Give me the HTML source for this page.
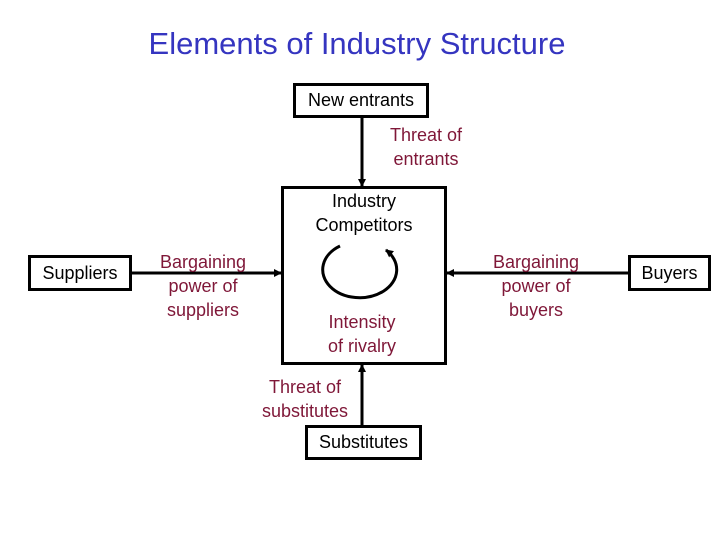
<!DOCTYPE html>
<html><head><style>
body{margin:0;width:720px;height:540px;background:#fff;position:relative;overflow:hidden;font-family:"Liberation Sans",sans-serif}
.t{position:absolute;white-space:nowrap;text-align:center;line-height:24px;font-size:18px}
.r{color:#7f1738}
.b{position:absolute;border:3px solid #000;box-sizing:border-box;display:flex;align-items:center;justify-content:center;font-size:18px}
</style></head><body>
<div class="t" style="left:0;width:714px;top:26px;font-size:31px;line-height:36px;color:#3535c0">Elements of Industry Structure</div>
<svg width="720" height="540" style="position:absolute;left:0;top:0">
<defs><marker id="a" markerWidth="8" markerHeight="8" refX="7" refY="4" orient="auto" markerUnits="userSpaceOnUse"><path d="M0,0 L8,4 L0,8z" fill="#000"/></marker></defs>
<g stroke="#000" stroke-width="3" fill="none">
<line x1="362" y1="117" x2="362" y2="186" marker-end="url(#a)"/>
<line x1="362" y1="426" x2="362" y2="365" marker-end="url(#a)"/>
<line x1="131" y1="273" x2="281" y2="273" marker-end="url(#a)"/>
<line x1="629" y1="273" x2="447" y2="273" marker-end="url(#a)"/>
<path d="M340,246 A37,28 0 1 0 386,250" marker-end="url(#a)"/>
</g></svg>
<div class="b" style="left:293px;top:83px;width:136px;height:35px">New entrants</div>
<div class="b" style="left:281px;top:186px;width:166px;height:179px"></div>
<div class="b" style="left:28px;top:255px;width:104px;height:36px">Suppliers</div>
<div class="b" style="left:628px;top:255px;width:83px;height:36px">Buyers</div>
<div class="b" style="left:305px;top:425px;width:117px;height:35px">Substitutes</div>
<div class="t r" style="left:376px;width:100px;top:123px">Threat of<br>entrants</div>
<div class="t" style="left:282px;width:164px;top:189px">Industry<br>Competitors</div>
<div class="t r" style="left:302px;width:120px;top:310px">Intensity<br>of rivalry</div>
<div class="t r" style="left:143px;width:120px;top:250px">Bargaining<br>power of<br>suppliers</div>
<div class="t r" style="left:476px;width:120px;top:250px">Bargaining<br>power of<br>buyers</div>
<div class="t r" style="left:245px;width:120px;top:375px">Threat of<br>substitutes</div>
</body></html>
